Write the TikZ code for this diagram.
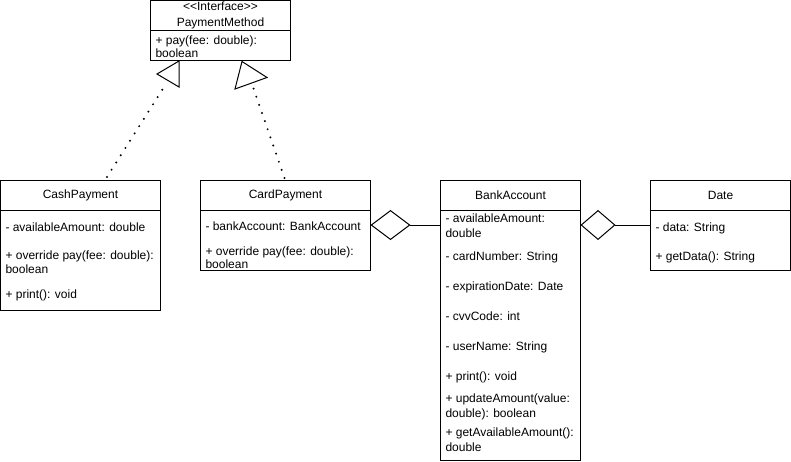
\documentclass[tikz,border=0pt]{standalone}
\usepackage{fontspec}
\setmainfont{Liberation Sans}
\usetikzlibrary{arrows.meta}
\begin{document}
\begin{tikzpicture}[x=1pt,y=-1pt,line width=1pt,
  box/.style={draw, rectangle, inner sep=0pt, outer sep=0pt, anchor=north west},
  txt/.style={anchor=base west, inner sep=0pt, outer sep=0pt},
  dotline/.style={line width=2.2pt, line cap=round, dash pattern=on 0pt off 8.6pt},
  aggl/.style={-{Diamond[open, length=40pt, width=30pt, line join=miter]}},
  aggs/.style={-{Diamond[open, length=35pt, width=30pt, line join=miter]}},
  gen/.style={draw, line join=miter, fill=white},
  font=\fontsize{12}{14}\selectfont]
\useasboundingbox (0,0) rectangle (791,461);

% PaymentMethod
\node[box, minimum width=140pt, minimum height=30pt, align=center, font=\fontsize{12}{16}\selectfont] (payH) at (150.5,0.5) {<\kern0pt<Interface>\kern0pt>\\PaymentMethod};
\node[box, minimum width=140pt, minimum height=30pt] (payB) at (150.5,30.5) {};
\node[txt] (pay1) at (155.5,44.5) {+ pay(fee: double):};
\node[txt] (pay2) at (155.5,57.5) {boolean};

% CashPayment
\node[box, minimum width=160pt, minimum height=30pt] (cashH) at (0.5,180.5) {CashPayment};
\node[box, minimum width=160pt, minimum height=100pt] (cashB) at (0.5,210.5) {};
\node[txt] (cash1) at (5.5,231) {- availableAmount: double};
\node[txt] (cash2) at (5.5,259.5) {+ override pay(fee: double):};
\node[txt] (cash3) at (5.5,273) {boolean};
\node[txt] (cash4) at (5.5,298.5) {+ print(): void};

% CardPayment
\node[box, minimum width=170pt, minimum height=30pt] (cardH) at (200.5,180.5) {CardPayment};
\node[box, minimum width=170pt, minimum height=60pt] (cardB) at (200.5,210.5) {};
\node[txt] (card1) at (205.5,230) {- bankAccount: BankAccount};
\node[txt] (card2) at (205.5,255) {+ override pay(fee: double):};
\node[txt] (card3) at (205.5,268) {boolean};

% BankAccount
\node[box, minimum width=140pt, minimum height=30pt] (bankH) at (440.5,180.5) {BankAccount};
\node[box, minimum width=140pt, minimum height=250pt] (bankB) at (440.5,210.5) {};
\node[txt] (bank1) at (445.5,222.5) {- availableAmount:};
\node[txt] (bank2) at (445.5,237.5) {double};
\node[txt] (bank3) at (445.5,260) {- cardNumber: String};
\node[txt] (bank4) at (445.5,290) {- expirationDate: Date};
\node[txt] (bank5) at (445.5,320) {- cvvCode: int};
\node[txt] (bank6) at (445.5,350) {- userName: String};
\node[txt] (bank7) at (445.5,380) {+ print(): void};
\node[txt] (bank8) at (445.5,402) {+ updateAmount(value:};
\node[txt] (bank9) at (445.5,417) {double): boolean};
\node[txt] (bank10) at (445.5,436) {+ getAvailableAmount():};
\node[txt] (bank11) at (445.5,451.5) {double};

% Date
\node[box, minimum width=140pt, minimum height=30pt] (dateH) at (650.5,180.5) {Date};
\node[box, minimum width=140pt, minimum height=60pt] (dateB) at (650.5,210.5) {};
\node[txt] (date1) at (655.5,231) {- data: String};
\node[txt] (date2) at (655.5,260) {+ getData(): String};

% aggregations
\draw[aggl] ([yshift=-14.5pt]bankB.north west) -- ([yshift=-14.5pt]cardB.north east);
\draw[aggs] ([yshift=-14.5pt]dateB.north west) -- ([yshift=-14.5pt]bankB.north east);

% realizations
\coordinate (cashTop) at (107,177);
\coordinate (cardTop) at (284.5,178);
\coordinate (triL) at (164,87);
\coordinate (triR) at (253.5,88.5);
\draw[dotline] (cashTop) -- (triL);
\draw[dotline] (cardTop) -- (triR);
\draw[gen] (157,74) -- (179,61) -- (179,87) -- cycle;
\draw[gen] (235,89) -- (242,61.5) -- (267,77.5) -- cycle;
\end{tikzpicture}
\end{document}
